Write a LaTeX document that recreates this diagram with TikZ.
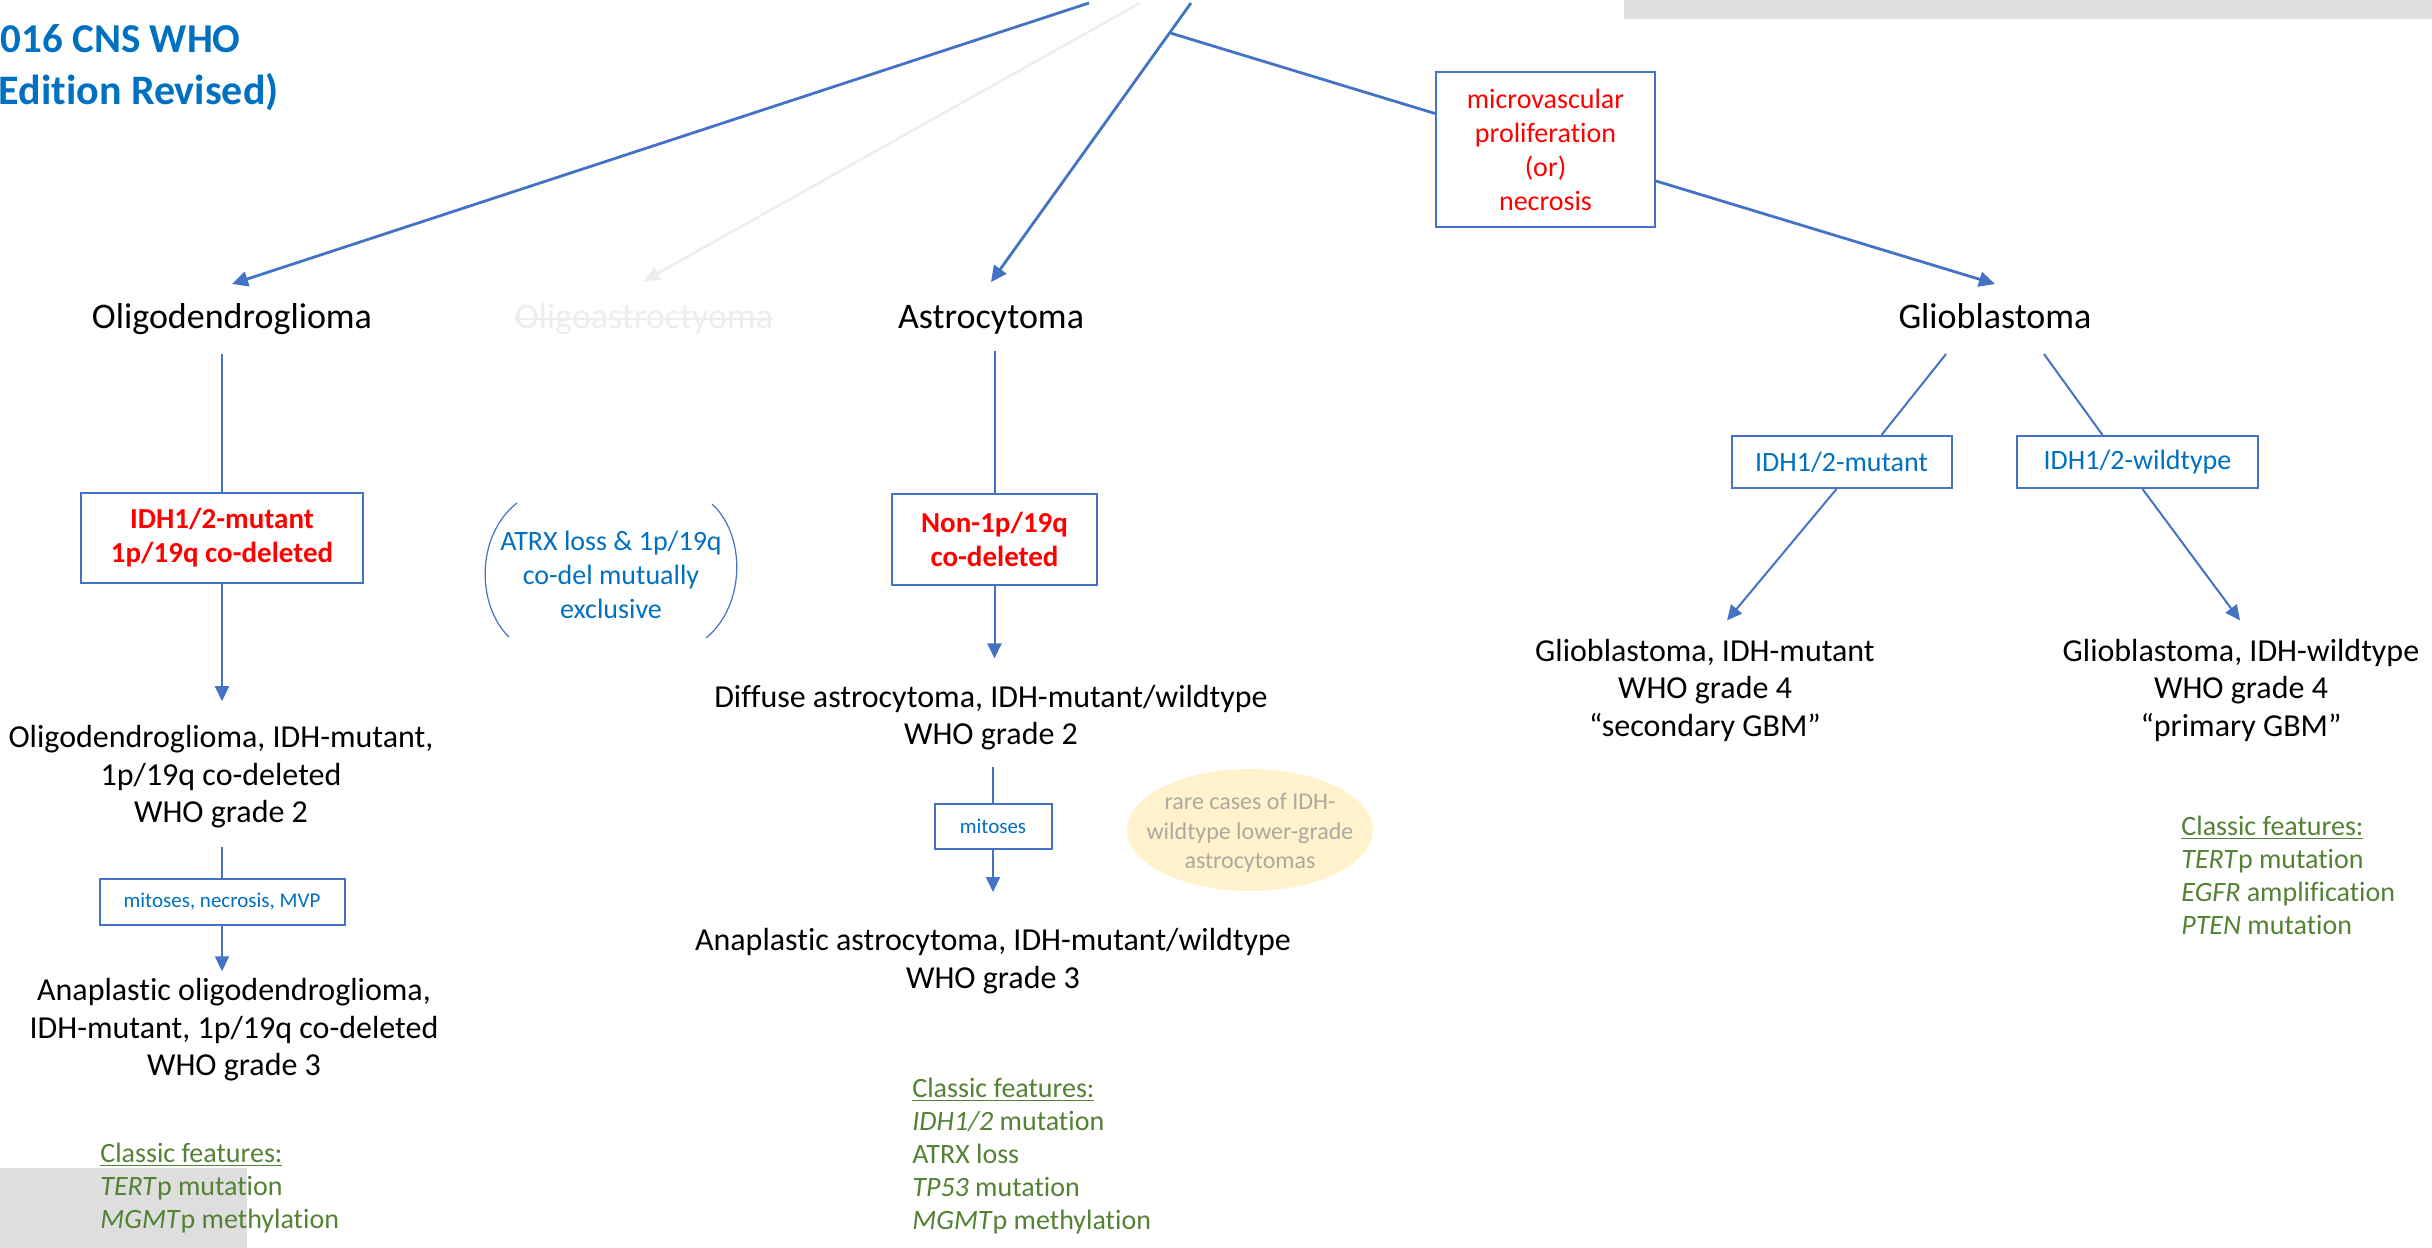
\documentclass[tikz,border=0pt]{standalone}
\usepackage{fontspec}
\setmainfont{Carlito}[Ligatures=NoCommon]
\usetikzlibrary{arrows.meta,calc,shapes.geometric}
\definecolor{lineblue}{HTML}{4472C4}
\definecolor{txtblue}{HTML}{0070C0}
\definecolor{cfgreen}{HTML}{548235}
\definecolor{faint}{HTML}{EDEDED}
\definecolor{ellfill}{HTML}{FFF2CC}
\definecolor{elltext}{HTML}{ADA9A0}
\definecolor{wmgray}{HTML}{DEDEDE}
\begin{document}
\begin{tikzpicture}[x=0.5pt,y=-0.5pt,
  lbl/.style={inner sep=0pt, font=\fontsize{18}{21.6}\selectfont},
  res/.style={inner sep=0pt, align=center, font=\fontsize{16}{18.75}\selectfont},
  box/.style={draw=lineblue, line width=1pt, fill=white, inner sep=0pt, align=center},
  redbox/.style={box, text=red, font=\bfseries\fontsize{14.5}{17}\selectfont},
  bluebox/.style={box, text=txtblue, font=\fontsize{14}{17}\selectfont},
  microbox/.style={box, text=red, font=\fontsize{14}{17}\selectfont},
  smallbox/.style={box, text=txtblue, font=\fontsize{10.5}{12.6}\selectfont},
  cf/.style={inner sep=0pt, align=left, text=cfgreen, font=\fontsize{14}{16.5}\selectfont},
  conn/.style={draw=lineblue, line width=1pt},
  arr/.style={conn, -{Triangle[length=7.5pt,width=7pt]}},
  topconn/.style={draw=lineblue, line width=1.4pt},
  toparr/.style={topconn, -{Triangle[length=8pt,width=7.5pt]}},
  fadearr/.style={draw=faint, line width=1.2pt, -{Triangle[length=8pt,width=7.5pt]}},
  paren/.style={draw=lineblue, line width=0.6pt},
]
\useasboundingbox (0,0) rectangle (2432,1248);

% watermark areas
\fill[wmgray] (1624,0) rectangle (2432,19);
\fill[wmgray] (0,1168) rectangle (247,1248);

% title
\node[anchor=east, inner sep=0pt, text=txtblue, font=\bfseries\fontsize{20.5}{25}\selectfont] (title1) at (241,39) {016 CNS WHO};
\node[anchor=east, inner sep=0pt, text=txtblue, font=\bfseries\fontsize{21}{25}\selectfont] (title2) at (279,92) {Edition Revised)};

% free top ends
\coordinate (t1) at (1089,3);
\coordinate (t2) at (1140,3);
\coordinate (t3) at (1191,3);

% level 1 labels
\node[lbl] (oligo) at (232,319) {Oligodendroglioma};
\node[lbl, text=faint] (oastro) at (644,319) {Oligoastroctyoma};
\draw[faint, line width=1pt] (oastro.west) -- (oastro.east);
\node[lbl] (astro) at (991,320) {Astrocytoma};
\node[lbl] (glio) at (1995,316) {Glioblastoma};

\node[microbox, minimum width=109.5pt, minimum height=77.5pt] (b5) at (1545.5,149.5) {microvascular\\proliferation\\(or)\\necrosis};

% top connectors
\draw[fadearr] (t2) -- ([yshift=11pt]oastro.north);
\draw[toparr] (t1) -- ([yshift=9.5pt]oligo.north);
\draw[toparr] (t3) -- ([yshift=11.5pt]astro.north);
\coordinate (br) at ($(t3)!0.1!(astro.north)$);
\draw[topconn] (br) -- ([yshift=18pt]b5.west);
\draw[toparr] ([yshift=-15.75pt]b5.east) -- ([yshift=9.5pt]glio.north);

% oligodendroglioma column
\node[redbox, minimum width=141pt, minimum height=45pt] (b1) at (222,538) {IDH1/2-mutant\\1p/19q co-deleted};
\node[res] (oligo2) at (221,777) {Oligodendroglioma, IDH-mutant,\\1p/19q co-deleted\\WHO grade 2};
\node[smallbox, minimum width=122.5pt, minimum height=23pt] (b2) at (222,902) {mitoses, necrosis, MVP};
\node[res] (oligo3) at (234,1030) {Anaplastic oligodendroglioma,\\IDH-mutant, 1p/19q co-deleted\\WHO grade 3};
\node[cf, anchor=north west] (cf1) at (100,1143) {\underline{Classic features:}\\\textit{TERT}p mutation\\\textit{MGMT}p methylation};

\draw[conn] ($(oligo.south -| b1.north)+(0,19)$) -- (b1.north);
\draw[arr] (b1.south) -- ($(b1.south |- oligo2.north)+(0,-24)$);
\draw[conn] ($(b2.north |- oligo2.south)+(0,18)$) -- (b2.north);
\draw[arr] (b2.south) -- ($(b2.south |- oligo3.north)+(0,-7)$);

% ATRX note
\node[inner sep=0pt, align=center, text=txtblue, font=\fontsize{14}{17}\selectfont] (atrx) at (611,575) {ATRX loss \& 1p/19q\\co-del mutually\\exclusive};
\draw[paren] (517,503) .. controls (476,535) and (476,605) .. (509,637);
\draw[paren] (712,504) .. controls (746,535) and (746,605) .. (706,638);

% astrocytoma column
\node[redbox, minimum width=102.5pt, minimum height=45.5pt] (b3) at (994.5,539.5) {Non-1p/19q\\co-deleted};
\node[res] (diff) at (991,717.5) {Diffuse astrocytoma, IDH-mutant/wildtype\\WHO grade 2};
\node[smallbox, minimum width=58.5pt, minimum height=22.5pt] (b4) at (993,826) {mitoses};
\node[res] (anaA) at (993,961) {Anaplastic astrocytoma, IDH-mutant/wildtype\\WHO grade 3};
\node[ellipse, fill=ellfill, minimum width=123pt, minimum height=61pt, inner sep=0pt] (rareEll) at (1250,830) {};
\node[inner sep=0pt, align=center, text=elltext, font=\fontsize{12}{14.75}\selectfont] (rare) at (1250,833) {rare cases of IDH-\\wildtype lower-grade\\astrocytomas};
\node[cf, anchor=north west] (cf2) at (912,1078) {\underline{Classic features:}\\\textit{IDH1/2} mutation\\ATRX loss\\\textit{TP53} mutation\\\textit{MGMT}p methylation};

\draw[conn] ($(astro.south -| b3.north)+(0,16)$) -- (b3.north);
\draw[arr] (b3.south) -- ($(b3.south |- diff.north)+(0,-26)$);
\draw[conn] ($(b4.north |- diff.south)+(0,16)$) -- (b4.north);
\draw[arr] (b4.south) -- ($(b4.south |- anaA.north)+(0,-36)$);

% glioblastoma column
\node[bluebox, minimum width=110pt, minimum height=26pt] (b6) at (1841.5,462) {IDH1/2-mutant};
\node[bluebox, minimum width=120.5pt, minimum height=26pt] (b7) at (2137.5,462) {IDH1/2-wildtype};
\node[res] (gbm1) at (1705,690) {Glioblastoma, IDH-mutant\\WHO grade 4\\“secondary GBM”};
\node[res] (gbm2) at (2241,690) {Glioblastoma, IDH-wildtype\\WHO grade 4\\“primary GBM”};
\node[cf, anchor=north west] (cf3) at (2181,816) {\underline{Classic features:}\\\textit{TERT}p mutation\\\textit{EGFR} amplification\\\textit{PTEN} mutation};

\draw[conn] ($(glio.south)+(-49,25)$) -- ($(b6.north)+(40,0)$);
\draw[conn] ($(glio.south)+(49,25)$) -- ($(b7.north)+(-35,0)$);
\draw[arr] ($(b6.south)+(-5,0)$) -- ($(gbm1.north)+(22,-18)$);
\draw[arr] ($(b7.south)+(5,0)$) -- ($(gbm2.north)+(-1,-18)$);
\end{tikzpicture}
\end{document}
